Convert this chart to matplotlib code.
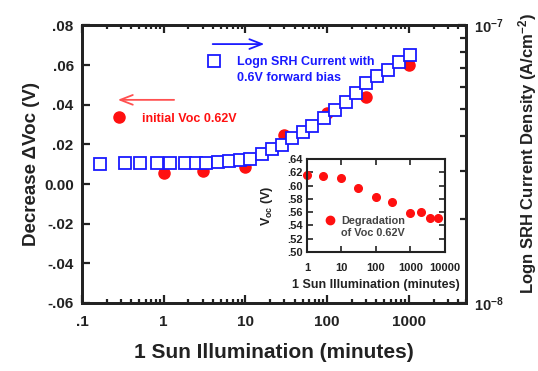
import numpy as np
import matplotlib.pyplot as plt
from matplotlib.lines import Line2D
from matplotlib.ticker import FixedLocator, FixedFormatter, NullFormatter, LogLocator

plt.rcParams['font.family'] = ['Liberation Sans', 'DejaVu Sans']
plt.rcParams['font.weight'] = 'bold'
plt.rcParams['mathtext.fontset'] = 'custom'
plt.rcParams['mathtext.rm'] = 'Liberation Sans:bold'
plt.rcParams['mathtext.bf'] = 'Liberation Sans:bold'
plt.rcParams['mathtext.it'] = 'Liberation Sans:bold'

# main plot: decrease of Voc (left axis)
voc_time = [1, 3, 10, 30, 100, 300, 1000]
voc_decrease = [0.0056, 0.0066, 0.0086, 0.0245, 0.036, 0.044, 0.060]

# main plot: SRH current (right axis, log)
srh_time = [0.166, 0.334, 0.51, 0.82, 1.18, 1.8, 2.5, 3.3, 4.6, 6.2, 8.5, 11.2, 15.7,
            21.3, 28, 37, 50, 66, 92, 125, 170, 225, 300, 405, 550, 755, 1020]
srh_current = [3.16e-8, 3.19e-8, 3.19e-8, 3.19e-8, 3.19e-8, 3.19e-8, 3.19e-8, 3.19e-8,
               3.22e-8, 3.25e-8, 3.27e-8, 3.30e-8, 3.44e-8, 3.58e-8, 3.70e-8, 3.93e-8,
               4.12e-8, 4.34e-8, 4.63e-8, 4.95e-8, 5.29e-8, 5.69e-8, 6.18e-8, 6.55e-8,
               6.94e-8, 7.36e-8, 7.80e-8]

# inset: Voc degradation
inset_time = [1, 3, 10, 30, 100, 300, 1000, 2000, 3700, 6300]
inset_voc = [0.616, 0.614, 0.611, 0.596, 0.583, 0.575, 0.559, 0.560, 0.551, 0.551]

xticks_main = [0.1, 1, 10, 100, 1000]
xticklabels_main = ['.1', '1', '10', '100', '1000']
yticks_main = [-0.06, -0.04, -0.02, 0.0, 0.02, 0.04, 0.06, 0.08]
yticklabels_main = ['-.06', '-.04', '-.02', '0.00', '.02', '.04', '.06', '.08']
xticks_inset = [1, 10, 100, 1000, 10000]
xticklabels_inset = ['1', '10', '100', '1000', '10000']
yticks_inset = [0.50, 0.52, 0.54, 0.56, 0.58, 0.60, 0.62, 0.64]
yticklabels_inset = ['.50', '.52', '.54', '.56', '.58', '.60', '.62', '.64']

RED = '#ff1010'
BLUE = '#1a1aff'
TXT = '#222222'

fig = plt.figure(figsize=(5.38, 3.71), dpi=100)
ax = fig.add_axes([0.1524, 0.1833, 0.714, 0.748])
ax.set_xscale('log')
ax.set_xlim(0.1, 5000)
ax.set_ylim(-0.06, 0.08)
ax.xaxis.set_major_locator(FixedLocator(xticks_main))
ax.xaxis.set_major_formatter(FixedFormatter(xticklabels_main))
ax.xaxis.set_minor_locator(LogLocator(base=10, subs=np.arange(2, 10)))
ax.xaxis.set_minor_formatter(NullFormatter())
ax.yaxis.set_major_locator(FixedLocator(yticks_main))
ax.yaxis.set_major_formatter(FixedFormatter(yticklabels_main))
ax.tick_params(which='both', direction='in', top=True, right=False, width=1.6,
               labelsize=11, colors=TXT)
ax.tick_params(which='major', length=6)
ax.tick_params(which='minor', length=3)
ax.tick_params(axis='x', which='major', pad=9)
ax.tick_params(axis='y', which='major', pad=6)
for s in ax.spines.values():
    s.set_linewidth(2)
    s.set_color(TXT)

ax.plot(voc_time, voc_decrease, 'o', color=RED, ms=8, zorder=3)

ax.set_xlabel('1 Sun Illumination (minutes)', fontsize=15, fontweight='bold',
              color=TXT, labelpad=10)
ax.set_ylabel('Decrease \u0394Voc (V)', fontsize=13.5, fontweight='bold',
              color=TXT, labelpad=3)

ax2 = ax.twinx()
ax2.set_yscale('log')
ax2.set_ylim(1e-8, 1e-7)
ax2.yaxis.set_major_locator(FixedLocator([1e-8, 1e-7]))
ax2.yaxis.set_major_formatter(FixedFormatter(['10$^{-8}$', '10$^{-7}$']))
ax2.yaxis.set_minor_locator(LogLocator(base=10, subs=np.arange(2, 10)))
ax2.yaxis.set_minor_formatter(NullFormatter())
ax2.tick_params(which='both', direction='in', width=1.6, labelsize=10.5, colors=TXT)
ax2.tick_params(which='major', length=6, pad=6)
ax2.tick_params(which='minor', length=4)
for s in ax2.spines.values():
    s.set_linewidth(2)
    s.set_color(TXT)
ax2.plot(srh_time, srh_current, 's', mfc='white', mec=BLUE, mew=1.3, ms=8, ls='none')
ax2.set_ylabel('Logn SRH Current Density (A/cm$^{-2}$)', fontsize=12,
               fontweight='bold', color=TXT)
ax2.yaxis.set_label_coords(1.13, 0.54)

# arrows pointing at the axes
ax.annotate('', xy=(0.482, 0.933), xytext=(0.333, 0.933), xycoords='axes fraction',
            arrowprops=dict(arrowstyle='->,head_length=0.9,head_width=0.35',
                            color=BLUE, lw=1.3))
ax.annotate('', xy=(0.086, 0.732), xytext=(0.247, 0.732), xycoords='axes fraction',
            arrowprops=dict(arrowstyle='->,head_length=0.9,head_width=0.35',
                            color='#ff5050', lw=1.3))

blank = Line2D([], [], ls='none')
leg1 = fig.legend([Line2D([], [], marker='s', mfc='white', mec=BLUE, mew=1.3, ms=8, ls='none'), blank],
                  ['Logn SRH Current with', '0.6V forward bias'],
                  loc='upper left', bbox_to_anchor=(0.3875, 0.848), frameon=False,
                  borderpad=0, borderaxespad=0, handlelength=0.9, handletextpad=1.4,
                  labelspacing=0.3, prop={'size': 9, 'weight': 'bold'}, labelcolor=BLUE)
leg2 = fig.legend([Line2D([], [], marker='o', color=RED, ms=8, ls='none')],
                  ['initial Voc 0.62V'],
                  loc='upper left', bbox_to_anchor=(0.211, 0.696), frameon=False,
                  borderpad=0, borderaxespad=0, handlelength=0.9, handletextpad=1.4,
                  prop={'size': 9, 'weight': 'bold'}, labelcolor=RED)

# inset
axin = fig.add_axes([0.5706, 0.3208, 0.2565, 0.2506])
axin.set_zorder(5)
axin.set_facecolor('white')
axin.set_xscale('log')
axin.set_xlim(1, 10000)
axin.set_ylim(0.50, 0.64)
axin.xaxis.set_major_locator(FixedLocator(xticks_inset))
axin.xaxis.set_major_formatter(FixedFormatter(xticklabels_inset))
axin.xaxis.set_minor_locator(LogLocator(base=10, subs=np.arange(2, 10)))
axin.xaxis.set_minor_formatter(NullFormatter())
axin.yaxis.set_major_locator(FixedLocator(yticks_inset))
axin.yaxis.set_major_formatter(FixedFormatter(yticklabels_inset))
axin.tick_params(which='both', direction='in', top=True, right=True, width=1.2,
                 labelsize=8, colors=TXT, pad=3)
axin.tick_params(axis='x', which='major', pad=8)
axin.tick_params(which='major', length=4)
axin.tick_params(which='minor', length=2)
for s in axin.spines.values():
    s.set_linewidth(1.5)
    s.set_color(TXT)
axin.plot(inset_time, inset_voc, 'o', color=RED, ms=5.5, clip_on=False)
axin.set_xlabel('1 Sun Illumination (minutes)', fontsize=9, fontweight='bold',
                color=TXT, labelpad=4)
axin.set_ylabel(r'V$_{\mathbf{oc}}$ (V)', fontsize=9, fontweight='bold',
                color=TXT, labelpad=9)
leg3 = axin.legend([Line2D([], [], marker='o', color=RED, ms=6, ls='none'), blank],
                   ['Degradation', 'of Voc 0.62V'],
                   loc='upper left', bbox_to_anchor=(0.604, 0.418),
                   bbox_transform=fig.transFigure, frameon=False,
                   borderpad=0, borderaxespad=0, handlelength=1.0, handletextpad=0.5,
                   labelspacing=0.2, prop={'size': 7.8, 'weight': 'bold'}, labelcolor='#444444')

fig.savefig('out.png', dpi=100)
